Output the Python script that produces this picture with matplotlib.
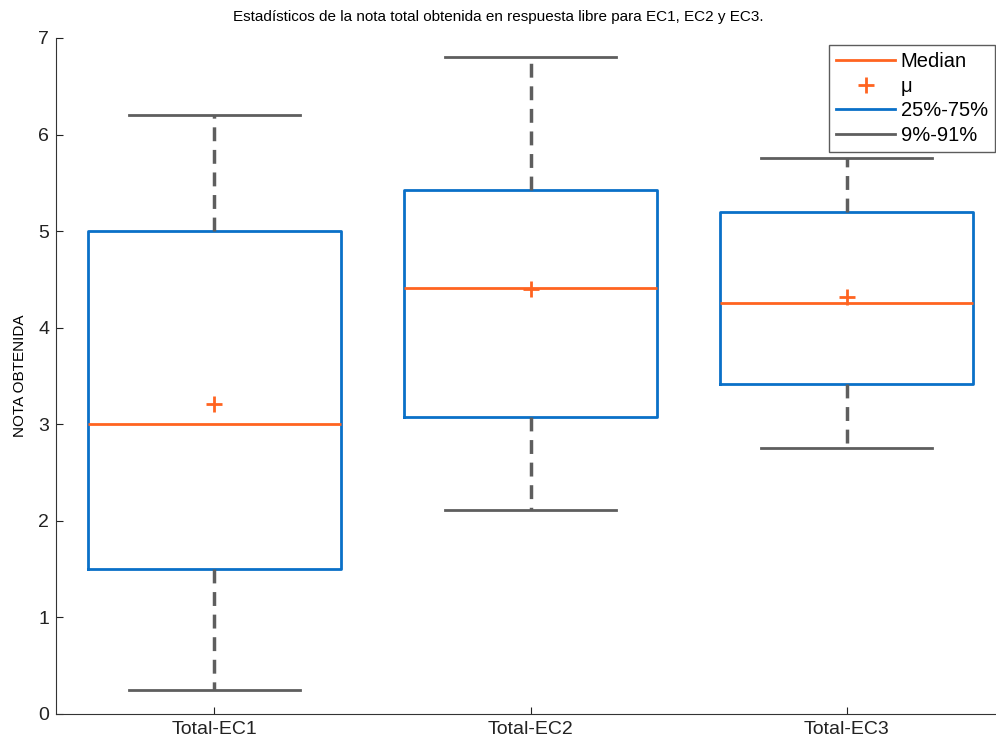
import numpy as np
import matplotlib.pyplot as plt
from matplotlib.lines import Line2D

# Estadísticos
categorias = ['Total-EC1', 'Total-EC2', 'Total-EC3']
p09 = [0.25, 2.11, 2.75]
q1 = [1.50, 3.08, 3.42]
mediana = [3.00, 4.41, 4.26]
media = [3.21, 4.40, 4.32]
q3 = [5.00, 5.43, 5.20]
p91 = [6.20, 6.80, 5.76]

naranja = '#FF6420'
azul = '#0A70C8'
gris = '#5E5E5E'

plt.rcParams['font.family'] = ['Liberation Sans', 'DejaVu Sans']

fig = plt.figure(figsize=(9.96, 7.37), dpi=100)
W, H = 996, 737
# ejes: izquierda 56 px, abajo 714 px, arriba 38 px (se recorta por la derecha)
ax = fig.add_axes([56 / W, (H - 714) / H, 949 / W, (714 - 38) / H])

stats = []
for i in range(len(categorias)):
    stats.append({'label': categorias[i], 'med': mediana[i], 'q1': q1[i], 'q3': q3[i],
                  'whislo': p09[i], 'whishi': p91[i], 'mean': media[i], 'fliers': []})

ax.bxp(stats, positions=[1, 2, 3], widths=0.8, capwidths=0.54, showmeans=True,
       showfliers=False,
       boxprops=dict(color=azul, linewidth=2),
       medianprops=dict(color=naranja, linewidth=2),
       whiskerprops=dict(color=gris, linewidth=2.5, linestyle=(0, (4, 2.5))),
       capprops=dict(color=gris, linewidth=2),
       meanprops=dict(marker='+', markeredgecolor=naranja, markersize=11,
                      markeredgewidth=2, linestyle='none'))

ax.set_xlim(0.5, 3.5)
ax.set_ylim(0, 7)
ax.set_yticks(range(0, 8))
ax.set_xticks([1, 2, 3])
ax.set_xticklabels(categorias)
ax.tick_params(direction='in', length=5, labelsize=14, colors='#222222', pad=5)
ax.spines['top'].set_visible(False)
ax.spines['right'].set_visible(False)
ax.spines['left'].set_color('#333333')
ax.spines['bottom'].set_color('#333333')

ax.set_ylabel('NOTA OBTENIDA', fontsize=11, labelpad=8)
fig.text(0.5, 1 - 17 / H, 'Estadísticos de la nota total obtenida en respuesta libre para EC1, EC2 y EC3.',
         ha='center', va='center', fontsize=11)

handles = [Line2D([], [], color=naranja, lw=2),
           Line2D([], [], color=naranja, marker='+', markersize=11, markeredgewidth=2, ls='none'),
           Line2D([], [], color=azul, lw=2),
           Line2D([], [], color=gris, lw=2)]
leg = ax.legend(handles, ['Median', 'μ', '25%-75%', '9%-91%'],
                loc='upper right', bbox_to_anchor=(995 / W, 1 - 45 / H),
                bbox_transform=fig.transFigure, fontsize=14.5, frameon=True,
                fancybox=False, borderpad=0.35, labelspacing=0.28,
                handlelength=2.9, handletextpad=0.3, borderaxespad=0)
leg.get_frame().set_edgecolor('#333333')
leg.get_frame().set_linewidth(1)

fig.savefig('out.png', dpi=100)
